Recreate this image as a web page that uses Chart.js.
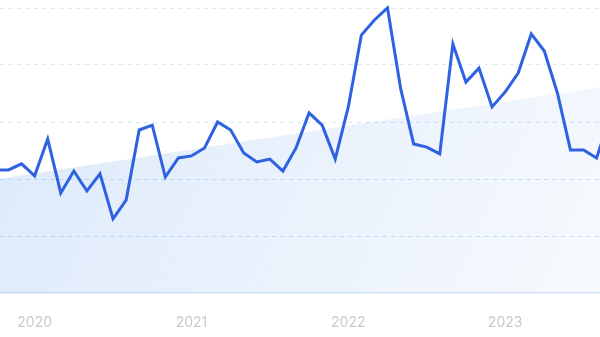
<!DOCTYPE html>
<html>
<head>
<meta charset="utf-8">
<script src="https://cdn.jsdelivr.net/npm/chart.js@4/dist/chart.umd.min.js"></script>
<style>
    html, body { margin: 0; padding: 0; background: #fff; }
    canvas { display: block; }
</style>
</head>
<body>
<canvas id="trend-chart" width="600" height="337"></canvas>
<script>
// monthly series, Oct 2019 .. Sep 2023 (window is cropped at both ends)
const months = [
    '2019-10', '2019-11', '2019-12',
    '2020-01', '2020-02', '2020-03', '2020-04', '2020-05', '2020-06', '2020-07', '2020-08', '2020-09', '2020-10', '2020-11', '2020-12',
    '2021-01', '2021-02', '2021-03', '2021-04', '2021-05', '2021-06', '2021-07', '2021-08', '2021-09', '2021-10', '2021-11', '2021-12',
    '2022-01', '2022-02', '2022-03', '2022-04', '2022-05', '2022-06', '2022-07', '2022-08', '2022-09', '2022-10', '2022-11', '2022-12',
    '2023-01', '2023-02', '2023-03', '2023-04', '2023-05', '2023-06', '2023-07', '2023-08', '2023-09'
];
const values = [
    43.2, 43.2, 45.3,
    41.1, 54.0, 35.1, 42.8, 35.8, 41.8, 26.0, 32.6, 57.2, 58.9, 40.7, 47.4,
    48.1, 50.9, 60.0, 57.2, 49.1, 46.0, 47.0, 42.8, 50.9, 63.2, 58.9, 47.0,
    65.3, 90.5, 95.8, 100, 71.9, 52.3, 51.2, 48.8, 87.4, 74.0, 78.9, 65.3,
    70.5, 77.2, 90.9, 84.9, 70.2, 50.2, 50.2, 47.4, 61.4
];
// straight trend band: value at first and last month
const trendMonths = ['2019-10', '2023-09'];
const trendValues = [39.8, 72.7];

const yearLabels = ['2020', '2021', '2022', '2023'];
const yearMonths = ['2020-01', '2021-01', '2022-01', '2023-01'];

const lineData = values.map((v, i) => ({ x: i, y: v }));
const trendData = trendValues.map((v, i) => ({ x: months.indexOf(trendMonths[i]), y: v }));

function trendFill(context) {
    const chart = context.chart;
    const area = chart.chartArea;
    if (!area) {
        return 'rgba(120, 170, 235, 0.15)';
    }
    const g = chart.ctx.createLinearGradient(area.left, area.top, area.right, area.bottom);
    g.addColorStop(0, 'rgba(118, 168, 236, 0.26)');
    g.addColorStop(1, 'rgba(118, 168, 236, 0.06)');
    return g;
}

function gridColor(context) {
    const v = context.tick.value;
    if (v === 0) return 'rgba(0,0,0,0)';
    if (v <= 40) return '#c4e5fa';
    if (v <= 60) return '#d3e3f8';
    return '#e1e6f8';
}

const ctx = document.getElementById('trend-chart').getContext('2d');

new Chart(ctx, {
    type: 'line',
    data: {
        datasets: [{
            label: 'Value',
            data: lineData,
            borderColor: '#2e62e2',
            borderWidth: 3,
            pointRadius: 0,
            tension: 0,
            fill: false,
            clip: false,
            order: 0
        }, {
            label: 'Trend',
            data: trendData,
            borderWidth: 0,
            borderColor: 'rgba(0,0,0,0)',
            backgroundColor: trendFill,
            pointRadius: 0,
            fill: 'origin',
            order: 1
        }]
    },
    options: {
        responsive: false,
        animation: false,
        layout: {
            padding: { top: 8, left: 0, right: 0, bottom: 0 }
        },
        scales: {
            x: {
                type: 'linear',
                min: 0.35,
                max: 46.26,
                grid: {
                    display: false,
                    drawTicks: false
                },
                border: {
                    display: true,
                    color: '#d9e5f6',
                    width: 1.5
                },
                afterBuildTicks: function(scale) {
                    scale.ticks = yearMonths.map(m => ({ value: months.indexOf(m) }));
                },
                afterFit: function(scale) {
                    scale.height = 44;
                    scale.paddingLeft = 0;
                    scale.paddingRight = 0;
                },
                ticks: {
                    autoSkip: false,
                    maxRotation: 0,
                    padding: 21,
                    color: '#cacace',
                    font: {
                        family: 'Inter, "Noto Sans", sans-serif',
                        size: 14
                    },
                    callback: function(value) {
                        const idx = yearMonths.indexOf(months[value]);
                        return idx >= 0 ? yearLabels[idx] : '';
                    }
                }
            },
            y: {
                min: 0,
                max: 100,
                afterFit: function(scale) {
                    scale.width = 0;
                },
                border: {
                    display: false,
                    dash: [4, 4.5]
                },
                grid: {
                    drawTicks: false,
                    color: gridColor,
                    lineWidth: 1
                },
                ticks: {
                    display: false,
                    padding: 0,
                    stepSize: 20
                }
            }
        },
        plugins: {
            legend: { display: false },
            tooltip: { enabled: false }
        }
    }
});
</script>
</body>
</html>
